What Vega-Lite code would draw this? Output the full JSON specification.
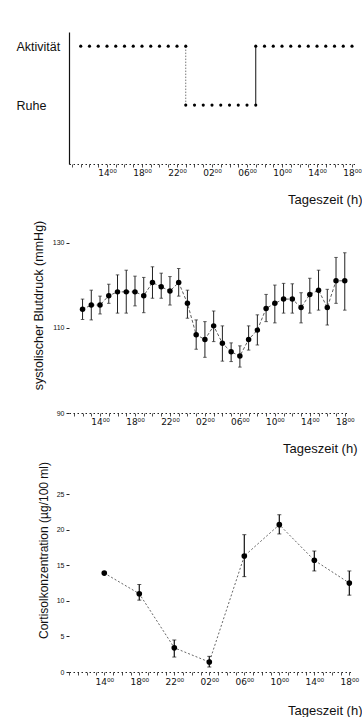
{
  "$schema": "https://vega.github.io/schema/vega-lite/v6.json",
  "background": "white",
  "padding": {"left": 16, "top": 32, "right": 0, "bottom": 0},
  "bounds": "flush",
  "spacing": 69,
  "config": {
    "view": {"stroke": null},
    "font": "Liberation Sans",
    "axis": {"grid": false, "labelFont": "Liberation Sans", "titleFont": "Liberation Sans", "labelColor": "#111", "titleColor": "#111", "domainColor": "#222", "tickColor": "#222", "titleFontWeight": "normal", "labelOverlap": false}
  },
  "datasets": {
    "aktivitaet": [
      {"t": 11, "zustand": 2}, {"t": 12, "zustand": 2}, {"t": 13, "zustand": 2}, {"t": 14, "zustand": 2}, {"t": 15, "zustand": 2}, {"t": 16, "zustand": 2}, {"t": 17, "zustand": 2}, {"t": 18, "zustand": 2}, {"t": 19, "zustand": 2}, {"t": 20, "zustand": 2}, {"t": 21, "zustand": 2}, {"t": 22, "zustand": 2}, {"t": 23, "zustand": 2},
      {"t": 23, "zustand": 1}, {"t": 24, "zustand": 1}, {"t": 25, "zustand": 1}, {"t": 26, "zustand": 1}, {"t": 27, "zustand": 1}, {"t": 28, "zustand": 1}, {"t": 29, "zustand": 1}, {"t": 30, "zustand": 1}, {"t": 31, "zustand": 1},
      {"t": 31, "zustand": 2}, {"t": 32, "zustand": 2}, {"t": 33, "zustand": 2}, {"t": 34, "zustand": 2}, {"t": 35, "zustand": 2}, {"t": 36, "zustand": 2}, {"t": 37, "zustand": 2}, {"t": 38, "zustand": 2}, {"t": 39, "zustand": 2}, {"t": 40, "zustand": 2}, {"t": 41, "zustand": 2}, {"t": 42, "zustand": 2}
    ],
    "wechsel": [{"t": 23, "von": 1, "bis": 2}, {"t": 31, "von": 1, "bis": 2}],
    "blutdruck": [
      {"t": 12, "v": 114.4, "lo": 112.0, "hi": 116.8},
      {"t": 13, "v": 115.4, "lo": 111.9, "hi": 118.9},
      {"t": 14, "v": 115.4, "lo": 113.3, "hi": 117.5},
      {"t": 15, "v": 117.6, "lo": 115.8, "hi": 120.3},
      {"t": 16, "v": 118.5, "lo": 113.5, "hi": 122.5},
      {"t": 17, "v": 118.5, "lo": 113.5, "hi": 123.6},
      {"t": 18, "v": 118.5, "lo": 115.2, "hi": 122.2},
      {"t": 19, "v": 117.6, "lo": 113.6, "hi": 121.9},
      {"t": 20, "v": 120.7, "lo": 117.0, "hi": 124.4},
      {"t": 21, "v": 119.7, "lo": 117.0, "hi": 122.9},
      {"t": 22, "v": 118.7, "lo": 115.4, "hi": 122.1},
      {"t": 23, "v": 120.7, "lo": 117.5, "hi": 124.0},
      {"t": 24, "v": 115.8, "lo": 112.3, "hi": 118.9},
      {"t": 25, "v": 108.4, "lo": 105.0, "hi": 111.9},
      {"t": 26, "v": 107.3, "lo": 103.1, "hi": 111.5},
      {"t": 27, "v": 110.5, "lo": 106.8, "hi": 114.0},
      {"t": 28, "v": 106.4, "lo": 102.2, "hi": 110.5},
      {"t": 29, "v": 104.4, "lo": 102.1, "hi": 106.5},
      {"t": 30, "v": 103.4, "lo": 100.8, "hi": 105.8},
      {"t": 31, "v": 107.3, "lo": 104.8, "hi": 110.5},
      {"t": 32, "v": 109.5, "lo": 106.0, "hi": 113.1},
      {"t": 33, "v": 114.6, "lo": 111.5, "hi": 117.9},
      {"t": 34, "v": 115.8, "lo": 111.2, "hi": 120.1},
      {"t": 35, "v": 116.8, "lo": 113.5, "hi": 120.5},
      {"t": 36, "v": 116.8, "lo": 113.5, "hi": 120.4},
      {"t": 37, "v": 114.8, "lo": 111.2, "hi": 118.3},
      {"t": 38, "v": 117.9, "lo": 113.5, "hi": 121.7},
      {"t": 39, "v": 118.9, "lo": 114.2, "hi": 123.6},
      {"t": 40, "v": 114.8, "lo": 110.7, "hi": 119.1},
      {"t": 41, "v": 121.1, "lo": 115.8, "hi": 126.6},
      {"t": 42, "v": 121.1, "lo": 114.2, "hi": 127.7}
    ],
    "cortisol": [
      {"t": 14, "v": 13.9, "lo": 13.9, "hi": 13.9},
      {"t": 18, "v": 11.0, "lo": 10.1, "hi": 12.3},
      {"t": 22, "v": 3.4, "lo": 2.1, "hi": 4.5},
      {"t": 26, "v": 1.4, "lo": 0.7, "hi": 2.2},
      {"t": 30, "v": 16.3, "lo": 13.4, "hi": 19.3},
      {"t": 34, "v": 20.7, "lo": 19.4, "hi": 22.1},
      {"t": 38, "v": 15.7, "lo": 14.2, "hi": 17.0},
      {"t": 42, "v": 12.5, "lo": 10.8, "hi": 14.2}
    ]
  },
  "vconcat": [
    {
      "width": 286,
      "height": 132,
      "encoding": {
        "x": {"field": "t", "type": "quantitative", "scale": {"domain": [9.66, 42.34], "nice": false, "zero": false},
          "axis": {"values": [10,11,12,13,14,15,16,17,18,19,20,21,22,23,24,25,26,27,28,29,30,31,32,33,34,35,36,37,38,39,40,41,42], "tickSize": 3, "tickWidth": 0.8, "domainDash": [1.5, 2.5], "labelExpr": "datum.value >= 14 && datum.value % 4 == 2 ? ((datum.value % 24 < 10 ? '0' : '') + (datum.value % 24) + '⁰⁰') : ''", "labelFont": "DejaVu Sans", "labelFontSize": 9, "labelPadding": 1, "labelFlush": false, "title": "Tageszeit (h)", "titleFontSize": 13, "titleAlign": "right", "titleAnchor": "end", "titleX": 293, "titleY": 35, "titleBaseline": "middle"}}
      },
      "layer": [
        {
          "data": {"name": "wechsel"},
          "transform": [{"filter": "datum.t == 23"}],
          "mark": {"type": "rule", "color": "#555", "strokeWidth": 0.8, "strokeDash": [1.5, 1.5]},
          "encoding": {"y": {"field": "von", "type": "quantitative"}, "y2": {"field": "bis"}}
        },
        {
          "data": {"name": "wechsel"},
          "transform": [{"filter": "datum.t == 31"}],
          "mark": {"type": "rule", "color": "#111", "strokeWidth": 1},
          "encoding": {"y": {"field": "von", "type": "quantitative"}, "y2": {"field": "bis"}}
        },
        {
          "data": {"name": "aktivitaet"},
          "mark": {"type": "point", "filled": true, "color": "#000", "size": 10, "opacity": 1},
          "encoding": {
            "y": {"field": "zustand", "type": "quantitative", "scale": {"domain": [0, 2.24], "nice": false},
              "axis": {"values": [1, 2], "labelExpr": "datum.value == 2 ? 'Aktivität' : 'Ruhe'", "ticks": false, "tickSize": 0, "labelAlign": "left", "labelBaseline": "middle", "labelPadding": 53, "labelFontSize": 12.5, "title": null, "domainColor": "#111", "domainWidth": 1.2}}
          }
        }
      ]
    },
    {
      "width": 279,
      "height": 180,
      "data": {"name": "blutdruck"},
      "encoding": {
        "x": {"field": "t", "type": "quantitative", "scale": {"domain": [10.45, 42.37], "nice": false, "zero": false},
          "axis": {"values": [11,12,13,14,15,16,17,18,19,20,21,22,23,24,25,26,27,28,29,30,31,32,33,34,35,36,37,38,39,40,41,42], "tickSize": 3, "tickWidth": 0.8, "domainDash": [1.5, 2.5], "labelExpr": "datum.value >= 14 && datum.value % 4 == 2 ? ((datum.value % 24 < 10 ? '0' : '') + (datum.value % 24) + '⁰⁰') : ''", "labelFont": "DejaVu Sans", "labelFontSize": 9, "labelPadding": 1, "labelFlush": false, "title": "Tageszeit (h)", "titleFontSize": 13, "titleAlign": "right", "titleAnchor": "end", "titleX": 288, "titleY": 35, "titleBaseline": "middle"}}
      },
      "layer": [
        {
          "mark": {"type": "line", "color": "#333", "strokeWidth": 0.8, "strokeDash": [3, 2]},
          "encoding": {"y": {"field": "v", "type": "quantitative", "scale": {"domain": [90, 132.35], "nice": false, "zero": false},
            "axis": {"values": [90, 110, 130], "domain": false, "tickSize": 3, "labelFontSize": 7, "labelPadding": 2, "labelOverlap": false, "title": "systolischer Blutdruck (mmHg)", "titleFontSize": 12.5, "titleX": -31, "titleY": 72, "titleBaseline": "middle"}}}
        },
        {
          "mark": {"type": "rule", "color": "#222", "strokeWidth": 1},
          "encoding": {"y": {"field": "lo", "type": "quantitative", "axis": {"values": [90, 110, 130], "domain": false, "tickSize": 3, "labelFontSize": 7, "labelPadding": 2, "labelOverlap": false, "title": "systolischer Blutdruck (mmHg)", "titleFontSize": 12.5, "titleX": -31, "titleY": 72, "titleBaseline": "middle"}}, "y2": {"field": "hi"}}
        },
        {
          "mark": {"type": "tick", "orient": "horizontal", "color": "#222", "size": 3.5, "thickness": 1},
          "encoding": {"y": {"field": "lo", "type": "quantitative", "axis": {"values": [90, 110, 130], "domain": false, "tickSize": 3, "labelFontSize": 7, "labelPadding": 2, "labelOverlap": false, "title": "systolischer Blutdruck (mmHg)", "titleFontSize": 12.5, "titleX": -31, "titleY": 72, "titleBaseline": "middle"}}}
        },
        {
          "mark": {"type": "tick", "orient": "horizontal", "color": "#222", "size": 3.5, "thickness": 1},
          "encoding": {"y": {"field": "hi", "type": "quantitative", "axis": {"values": [90, 110, 130], "domain": false, "tickSize": 3, "labelFontSize": 7, "labelPadding": 2, "labelOverlap": false, "title": "systolischer Blutdruck (mmHg)", "titleFontSize": 12.5, "titleX": -31, "titleY": 72, "titleBaseline": "middle"}}}
        },
        {
          "mark": {"type": "point", "filled": true, "color": "#000", "size": 30, "opacity": 1},
          "encoding": {"y": {"field": "v", "type": "quantitative", "axis": {"values": [90, 110, 130], "domain": false, "tickSize": 3, "labelFontSize": 7, "labelPadding": 2, "labelOverlap": false, "title": "systolischer Blutdruck (mmHg)", "titleFontSize": 12.5, "titleX": -31, "titleY": 72, "titleBaseline": "middle"}}}
        }
      ]
    },
    {
      "width": 284,
      "height": 190,
      "data": {"name": "cortisol"},
      "encoding": {
        "x": {"field": "t", "type": "quantitative", "scale": {"domain": [9.97, 42.42], "nice": false, "zero": false},
          "axis": {"values": [10,11,12,13,14,15,16,17,18,19,20,21,22,23,24,25,26,27,28,29,30,31,32,33,34,35,36,37,38,39,40,41,42], "tickSize": 3, "tickWidth": 0.8, "domainDash": [1.5, 2.5], "labelExpr": "datum.value >= 14 && datum.value % 4 == 2 ? ((datum.value % 24 < 10 ? '0' : '') + (datum.value % 24) + '⁰⁰') : ''", "labelFont": "DejaVu Sans", "labelFontSize": 9, "labelPadding": 2, "labelFlush": false, "title": "Tageszeit (h)", "titleFontSize": 13, "titleAlign": "right", "titleAnchor": "end", "titleX": 293, "titleY": 38, "titleBaseline": "middle"}}
      },
      "layer": [
        {
          "mark": {"type": "line", "color": "#555", "strokeWidth": 0.9, "strokeDash": [2, 2]},
          "encoding": {"y": {"field": "v", "type": "quantitative", "scale": {"domain": [0, 26.7], "nice": false},
            "axis": {"values": [0, 5, 10, 15, 20, 25], "domain": false, "tickSize": 3, "labelFontSize": 7, "labelPadding": 2, "labelOverlap": false, "title": "Cortisolkonzentration (µg/100 ml)", "titleFontSize": 12, "titleX": -26, "titleY": 68, "titleBaseline": "middle"}}}
        },
        {
          "mark": {"type": "rule", "color": "#111", "strokeWidth": 1.2},
          "encoding": {"y": {"field": "lo", "type": "quantitative", "axis": {"values": [0, 5, 10, 15, 20, 25], "domain": false, "tickSize": 3, "labelFontSize": 7, "labelPadding": 2, "labelOverlap": false, "title": "Cortisolkonzentration (µg/100 ml)", "titleFontSize": 12, "titleX": -26, "titleY": 68, "titleBaseline": "middle"}}, "y2": {"field": "hi"}}
        },
        {
          "mark": {"type": "tick", "orient": "horizontal", "color": "#111", "size": 4, "thickness": 1},
          "encoding": {"y": {"field": "lo", "type": "quantitative", "axis": {"values": [0, 5, 10, 15, 20, 25], "domain": false, "tickSize": 3, "labelFontSize": 7, "labelPadding": 2, "labelOverlap": false, "title": "Cortisolkonzentration (µg/100 ml)", "titleFontSize": 12, "titleX": -26, "titleY": 68, "titleBaseline": "middle"}}}
        },
        {
          "mark": {"type": "tick", "orient": "horizontal", "color": "#111", "size": 4, "thickness": 1},
          "encoding": {"y": {"field": "hi", "type": "quantitative", "axis": {"values": [0, 5, 10, 15, 20, 25], "domain": false, "tickSize": 3, "labelFontSize": 7, "labelPadding": 2, "labelOverlap": false, "title": "Cortisolkonzentration (µg/100 ml)", "titleFontSize": 12, "titleX": -26, "titleY": 68, "titleBaseline": "middle"}}}
        },
        {
          "mark": {"type": "point", "filled": true, "color": "#000", "size": 32, "opacity": 1},
          "encoding": {"y": {"field": "v", "type": "quantitative", "axis": {"values": [0, 5, 10, 15, 20, 25], "domain": false, "tickSize": 3, "labelFontSize": 7, "labelPadding": 2, "labelOverlap": false, "title": "Cortisolkonzentration (µg/100 ml)", "titleFontSize": 12, "titleX": -26, "titleY": 68, "titleBaseline": "middle"}}}
        }
      ]
    }
  ]
}
